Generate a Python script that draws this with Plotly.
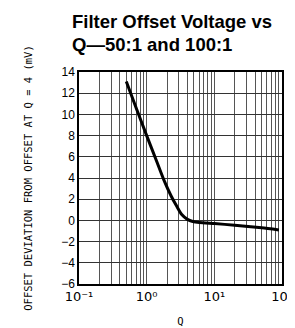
import plotly.graph_objects as go

q = [0.5, 0.7, 1.0, 1.4, 1.8, 2.3, 2.8, 3.3, 4.0, 4.8, 6.0, 10.0, 20.0, 50.0, 90.0]
offset = [13.1, 10.6, 8.0, 5.6, 3.8, 2.3, 1.3, 0.55, 0.1, -0.1, -0.2, -0.3, -0.45, -0.7, -0.9]

title_lines = ["Filter Offset Voltage vs", "Q—50:1 and 100:1"]
decade_labels = ["10⁻¹", "10⁰", "10¹", "10²"]

x_tickvals = []
x_ticktext = []
for i, e in enumerate((-1, 0, 1)):
    for m in range(1, 10):
        x_tickvals.append(m * 10 ** e)
        x_ticktext.append(decade_labels[i] if m == 1 else "")
x_tickvals.append(100)
x_ticktext.append(decade_labels[3])

y_ticks = list(range(-6, 15, 2))

L, R, T, B = 71, 10, 64, 50
W, H = 295, 328
PW, PH = W - L - R, H - T - B

fig = go.Figure()
fig.add_trace(go.Scatter(x=q, y=offset, mode="lines",
                         line=dict(color="black", width=3, shape="spline", smoothing=0.6),
                         showlegend=False, hoverinfo="skip"))

# title as two left-aligned lines
for txt, ypx in zip(title_lines, [13, 36]):
    fig.add_annotation(text=f"<b>{txt}</b>", xref="paper", yref="paper",
                       x=-9 / PW, y=(H - B - ypx) / PH, xanchor="left", yanchor="middle",
                       showarrow=False, align="left",
                       font=dict(family="Liberation Sans, Arial, sans-serif", size=18.5, color="black"))

fig.update_layout(
    width=W, height=H,
    margin=dict(l=L, r=R, t=T, b=B),
    paper_bgcolor="white", plot_bgcolor="white",
    font=dict(family="Liberation Sans, Arial, sans-serif", size=12, color="black"),
)
fig.update_xaxes(type="log", range=[-1, 2], tickvals=x_tickvals, ticktext=x_ticktext,
                 showgrid=True, gridcolor="#555", gridwidth=1,
                 showline=True, linecolor="black", linewidth=1.5, mirror=True,
                 ticks="", zeroline=False, ticklabeloverflow="allow",
                 title=dict(text="Q", font=dict(family="DejaVu Sans Mono, monospace", size=10.5), standoff=14),
                 tickfont=dict(family="DejaVu Sans, sans-serif", size=13))
fig.update_yaxes(range=[-6, 14], tickvals=y_ticks,
                 showgrid=True, gridcolor="#333", gridwidth=1,
                 showline=True, linecolor="black", linewidth=1.5, mirror=True,
                 ticks="", zeroline=False,
                 title=dict(text="OFFSET DEVIATION FROM OFFSET AT Q = 4 (mV)",
                            font=dict(family="DejaVu Sans Mono, monospace", size=10.5), standoff=26),
                 tickfont=dict(size=12))

fig.write_html("out.html")
